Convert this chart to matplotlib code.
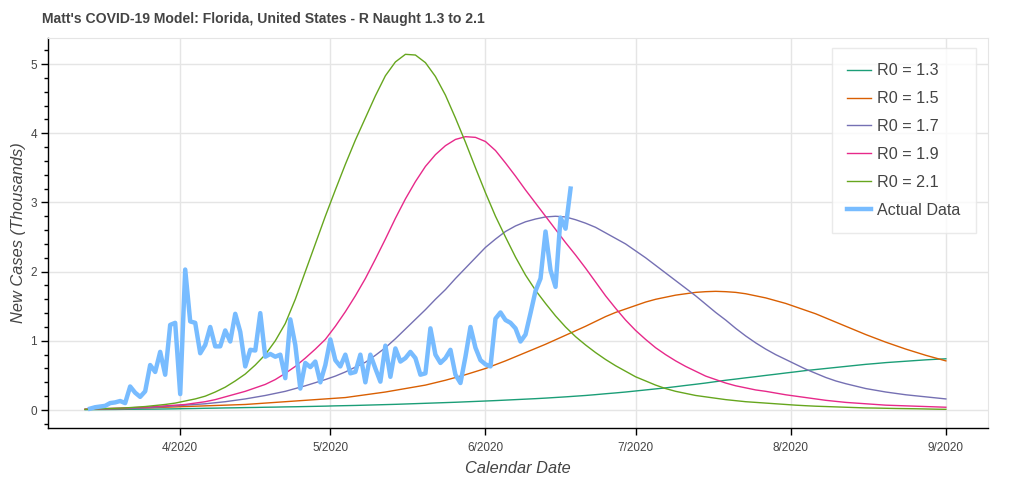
import datetime as dt
import matplotlib
matplotlib.use("Agg")
import matplotlib.pyplot as plt
import matplotlib.dates as mdates
from matplotlib.ticker import MultipleLocator, FuncFormatter
import pandas as pd

plt.rcParams['font.family'] = ['Liberation Sans', 'DejaVu Sans']

# model curves, one value every 2 days from 2020-03-13 to 2020-09-01 (thousands)
model_start = "2020-03-13"
r0_labels = ["R0 = 1.3", "R0 = 1.5", "R0 = 1.7", "R0 = 1.9", "R0 = 2.1"]
r0_colors = ["#1b9e77", "#d95f02", "#7570b3", "#e7298a", "#66a61e"]

r0_13 = [0.005, 0.006, 0.007, 0.008, 0.01, 0.011, 0.012, 0.013, 0.015, 0.017, 0.02,
         0.022, 0.025, 0.027, 0.03, 0.032, 0.035, 0.037, 0.04, 0.042, 0.045, 0.047,
         0.05, 0.053, 0.056, 0.06, 0.063, 0.066, 0.07, 0.074, 0.078, 0.082, 0.087,
         0.092, 0.097, 0.102, 0.107, 0.112, 0.118, 0.124, 0.13, 0.136, 0.143, 0.15,
         0.157, 0.164, 0.172, 0.181, 0.19, 0.20, 0.21, 0.222, 0.235, 0.247, 0.26,
         0.275, 0.29, 0.305, 0.32, 0.337, 0.355, 0.372, 0.39, 0.41, 0.43, 0.447,
         0.465, 0.482, 0.50, 0.517, 0.535, 0.552, 0.57, 0.585, 0.60, 0.615, 0.63,
         0.645, 0.66, 0.672, 0.685, 0.695, 0.705, 0.715, 0.725, 0.733, 0.74]
r0_15 = [0.01, 0.012, 0.015, 0.018, 0.02, 0.025, 0.03, 0.035, 0.04, 0.045, 0.05,
         0.055, 0.06, 0.065, 0.07, 0.075, 0.08, 0.09, 0.10, 0.11, 0.12, 0.13,
         0.14, 0.15, 0.16, 0.17, 0.18, 0.20, 0.22, 0.24, 0.26, 0.285, 0.31,
         0.335, 0.36, 0.395, 0.43, 0.47, 0.51, 0.555, 0.60, 0.655, 0.71, 0.77,
         0.83, 0.89, 0.95, 1.015, 1.08, 1.145, 1.21, 1.28, 1.35, 1.41, 1.46,
         1.51, 1.56, 1.60, 1.63, 1.66, 1.68, 1.70, 1.71, 1.715, 1.71, 1.70,
         1.68, 1.65, 1.62, 1.58, 1.54, 1.49, 1.44, 1.39, 1.33, 1.27, 1.21,
         1.15, 1.09, 1.035, 0.98, 0.93, 0.88, 0.835, 0.79, 0.75, 0.71]
r0_17 = [0.01, 0.012, 0.015, 0.018, 0.02, 0.025, 0.03, 0.04, 0.05, 0.06, 0.07,
         0.08, 0.09, 0.105, 0.12, 0.14, 0.16, 0.185, 0.21, 0.24, 0.27, 0.31,
         0.35, 0.395, 0.44, 0.49, 0.55, 0.62, 0.69, 0.79, 0.90, 1.03, 1.17,
         1.31, 1.45, 1.60, 1.74, 1.90, 2.05, 2.20, 2.35, 2.47, 2.58, 2.66,
         2.72, 2.76, 2.79, 2.80, 2.79, 2.75, 2.70, 2.64, 2.56, 2.48, 2.40,
         2.30, 2.20, 2.09, 1.98, 1.87, 1.76, 1.65, 1.53, 1.41, 1.30, 1.18,
         1.07, 0.97, 0.88, 0.80, 0.73, 0.66, 0.59, 0.53, 0.47, 0.42, 0.38,
         0.345, 0.31, 0.285, 0.26, 0.24, 0.22, 0.205, 0.19, 0.175, 0.16]
r0_19 = [0.01, 0.015, 0.02, 0.025, 0.03, 0.035, 0.04, 0.05, 0.06, 0.07, 0.08,
         0.10, 0.12, 0.15, 0.19, 0.23, 0.27, 0.32, 0.37, 0.44, 0.53, 0.63,
         0.75, 0.88, 1.02, 1.21, 1.42, 1.65, 1.90, 2.18, 2.47, 2.77, 3.05,
         3.30, 3.52, 3.69, 3.82, 3.91, 3.95, 3.94, 3.88, 3.75, 3.57, 3.38,
         3.18, 2.99, 2.80, 2.61, 2.42, 2.24, 2.05, 1.85, 1.65, 1.47, 1.30,
         1.15, 1.02, 0.90, 0.80, 0.71, 0.63, 0.56, 0.49, 0.44, 0.39, 0.35,
         0.32, 0.29, 0.27, 0.245, 0.22, 0.20, 0.18, 0.16, 0.14, 0.125, 0.11,
         0.10, 0.09, 0.08, 0.07, 0.065, 0.06, 0.055, 0.05, 0.045, 0.04]
r0_21 = [0.01, 0.015, 0.02, 0.025, 0.03, 0.04, 0.05, 0.065, 0.08, 0.10, 0.13,
         0.16, 0.20, 0.26, 0.33, 0.42, 0.52, 0.65, 0.80, 1.00, 1.25, 1.60,
         2.00, 2.40, 2.80, 3.18, 3.55, 3.90, 4.22, 4.54, 4.83, 5.03, 5.14,
         5.13, 5.02, 4.82, 4.55, 4.22, 3.87, 3.50, 3.14, 2.80, 2.50, 2.21,
         1.95, 1.73, 1.54, 1.36, 1.20, 1.06, 0.94, 0.83, 0.73, 0.64, 0.56,
         0.48, 0.42, 0.36, 0.31, 0.27, 0.24, 0.21, 0.19, 0.17, 0.15, 0.135,
         0.12, 0.11, 0.10, 0.09, 0.08, 0.07, 0.062, 0.055, 0.05, 0.045, 0.04,
         0.035, 0.03, 0.028, 0.025, 0.022, 0.02, 0.018, 0.015, 0.012, 0.01]

# reported daily cases from 2020-03-14 (thousands)
actual_start = "2020-03-14"
actual = [0.02, 0.04, 0.05, 0.06, 0.10, 0.11, 0.13, 0.10, 0.34, 0.25, 0.19, 0.27,
          0.65, 0.55, 0.84, 0.51, 1.23, 1.26, 0.23, 2.03, 1.28, 1.26, 0.82, 0.94,
          1.20, 0.92, 0.92, 1.15, 0.99, 1.39, 1.13, 0.63, 0.87, 0.86, 1.40, 0.77,
          0.81, 0.77, 0.80, 0.46, 1.31, 0.94, 0.31, 0.68, 0.62, 0.70, 0.40, 0.65,
          1.02, 0.72, 0.63, 0.80, 0.53, 0.55, 0.80, 0.40, 0.80, 0.60, 0.41, 0.93,
          0.48, 0.89, 0.70, 0.75, 0.84, 0.75, 0.51, 0.53, 1.18, 0.80, 0.68, 0.75,
          0.87, 0.51, 0.39, 0.77, 1.20, 0.90, 0.72, 0.66, 0.63, 1.32, 1.41, 1.30,
          1.26, 1.18, 0.99, 1.09, 1.40, 1.72, 1.90, 2.58, 2.02, 1.78, 2.78, 2.62,
          3.20]

model_dates = pd.date_range(model_start, periods=len(r0_13), freq="2D")
actual_dates = pd.date_range(actual_start, periods=len(actual), freq="D")

fig = plt.figure(figsize=(10.24, 4.82), dpi=100)
ax = fig.add_axes([48/1024, 1-428/482, 940/1024, 390/482])

txt = "#444444"
grid_c = "#e5e5e5"

for vals, lab, col in zip([r0_13, r0_15, r0_17, r0_19, r0_21], r0_labels, r0_colors):
    ax.plot(model_dates, vals, color=col, lw=1.0, label=lab)
ax.plot(actual_dates, actual, color="#78bcff", lw=3.2, label="Actual Data",
        solid_joinstyle="round")

ax.set_xlim(dt.datetime(2020, 3, 5, 14), dt.datetime(2020, 9, 9, 10))
ax.set_ylim(-0.26, 5.376)

ax.xaxis.set_major_locator(mdates.MonthLocator())
ax.xaxis.set_major_formatter(FuncFormatter(
    lambda x, p: "%d/%d" % (mdates.num2date(x).month, mdates.num2date(x).year)))
ax.yaxis.set_major_locator(MultipleLocator(1))
ax.yaxis.set_minor_locator(MultipleLocator(0.2))

ax.grid(True, which="major", color=grid_c, lw=1.0)
ax.set_axisbelow(True)

for s in ["top", "right"]:
    ax.spines[s].set_color(grid_c)
for s in ["left", "bottom"]:
    ax.spines[s].set_color("black")
    ax.spines[s].set_linewidth(1.0)

ax.tick_params(axis="both", which="major", length=5, width=1, colors="black",
               labelcolor=txt, labelsize=8.5, pad=3)
ax.tick_params(axis="x", which="major", pad=5)
ax.tick_params(axis="y", which="minor", length=3, width=1, colors="black")

ax.set_xlabel("Calendar Date", fontsize=11.8, style="italic", color=txt, labelpad=5)
ax.set_ylabel("New Cases (Thousands)", fontsize=11.8, style="italic", color=txt, labelpad=3)

fig.text(42/1024, 1-19/482, "Matt's COVID-19 Model: Florida, United States - R Naught 1.3 to 2.1",
         fontsize=10.1, fontweight="bold", color=txt, va="center", ha="left")

leg = ax.legend(loc="upper right", bbox_to_anchor=(1-12/940, 1-10/390), borderaxespad=0,
                fontsize=11.6, frameon=True, fancybox=False, edgecolor=grid_c,
                handlelength=1.5, handletextpad=0.4, labelspacing=0.8, borderpad=0.95)
leg.get_frame().set_linewidth(1.0)
for t in leg.get_texts():
    t.set_color(txt)

fig.savefig("out.png", dpi=100)
